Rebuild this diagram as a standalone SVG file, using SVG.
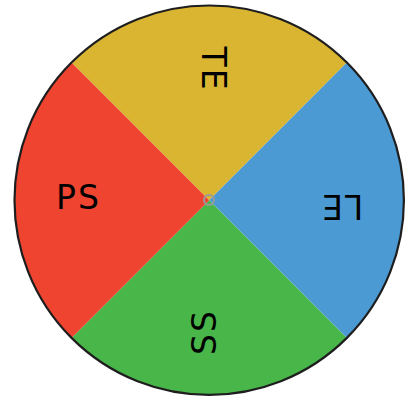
<svg xmlns="http://www.w3.org/2000/svg" width="419" height="401" viewBox="0 0 419 401">
<style>
.lbl{font-family:"DejaVu Sans","Liberation Sans",sans-serif;font-size:33px;fill:#000;text-anchor:middle;letter-spacing:2px}
.sec{stroke:none}
</style>
<rect width="419" height="401" fill="#ffffff"/>
<g id="TE">
<path class="sec" fill="#dab532" d="M209.2,200.2 L71.5,62.5 A194.7,194.7 0 0 1 346.9,62.5 Z"/>
<text class="lbl" transform="translate(214,68) rotate(90)" x="1" y="12">TE</text>
</g>
<g id="LE">
<path class="sec" fill="#4b9ad4" d="M209.2,200.2 L346.9,62.5 A194.7,194.7 0 0 1 346.9,337.9 Z"/>
<text class="lbl" transform="translate(342.7,206.5) rotate(180)" x="1" y="12">LE</text>
</g>
<g id="SS">
<path class="sec" fill="#49b64a" d="M209.2,200.2 L346.9,337.9 A194.7,194.7 0 0 1 71.5,337.9 Z"/>
<text class="lbl" transform="translate(204,333) rotate(270)" x="1" y="12">SS</text>
</g>
<g id="PS">
<path class="sec" fill="#ee4430" d="M209.2,200.2 L71.5,337.9 A194.7,194.7 0 0 1 71.5,62.5 Z"/>
<text class="lbl" transform="translate(77.5,197)" x="1" y="12">PS</text>
</g>
<g id="rim">
<circle cx="209.2" cy="200.2" r="194.7" fill="none" stroke="#1e1e1e" stroke-width="2.2"/>
</g>
<g id="hub">
<circle cx="209" cy="200" r="5" fill="none" stroke="#9a9a9a" stroke-width="2"/>
</g>
</svg>
